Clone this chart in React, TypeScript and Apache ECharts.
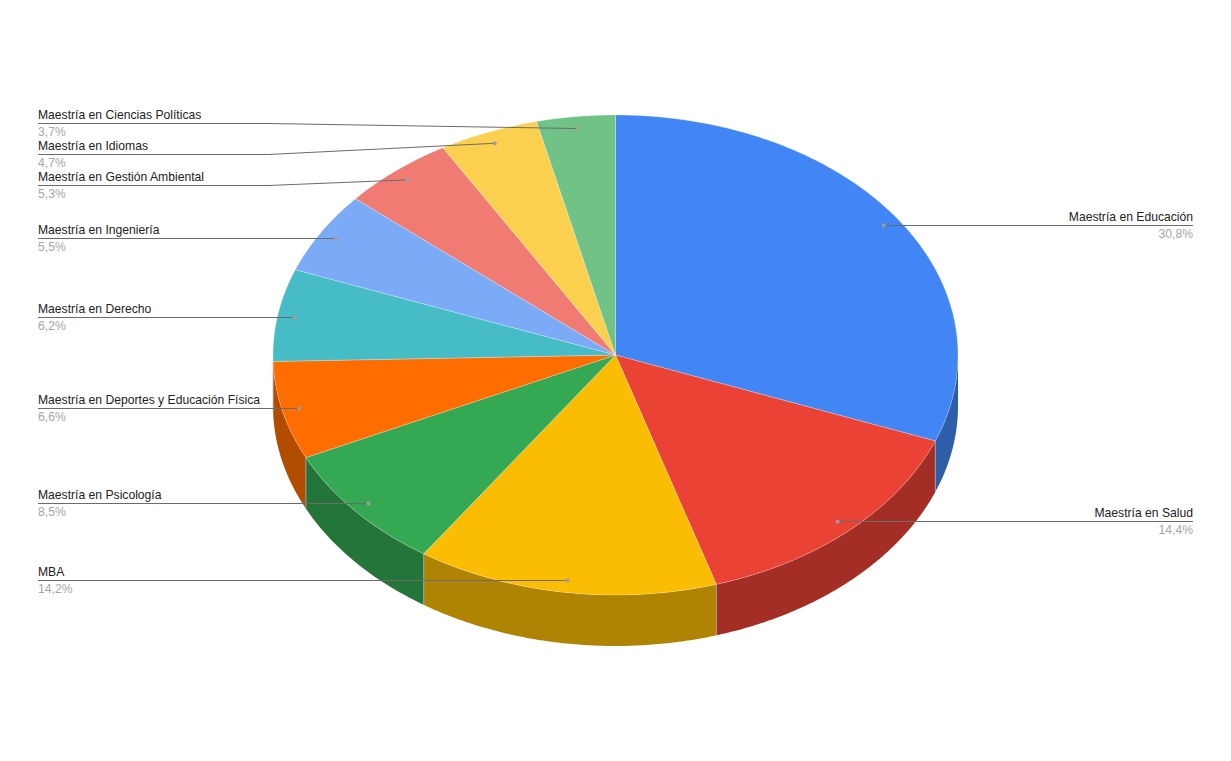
import React, { useEffect, useRef } from "react";
import * as echarts from "echarts";

const categories = [
  "Maestría en Educación",
  "Maestría en Salud",
  "MBA",
  "Maestría en Psicología",
  "Maestría en Deportes y Educación Física",
  "Maestría en Derecho",
  "Maestría en Ingeniería",
  "Maestría en Gestión Ambiental",
  "Maestría en Idiomas",
  "Maestría en Ciencias Políticas",
];
const shares = [30.8, 14.4, 14.2, 8.5, 6.6, 6.2, 5.5, 5.3, 4.7, 3.7];
const topColors = ["#4285f4", "#ea4335", "#fbbc04", "#34a853", "#ff6d01", "#46bdc6", "#7baaf7", "#f07b72", "#fcd04f", "#71c287"];
const sideColors = ["#2e5daa", "#a32e25", "#af8303", "#247539", "#b24c00", "#31848a", "#5677ac", "#a8564f", "#b09137", "#4f885e"];
// label rows stacked at the top-left, away from their slice's anchor height
const stackedLabelY: Record<number, number> = { 7: 185.5, 8: 154.5, 9: 123.5 };
const adjustedLabelY: Record<number, number> = { 4: 408.5, 5: 317.5 };

const CX = 615.5;
const CY = 355;
const RX = 342.5;
const RY = 240;
const DEPTH = 51;
const ANCHOR = 0.95;
const LEFT_X = 38;
const RIGHT_X = 1193;
const KINK_X = 268;
const FONT = "12.15px 'Liberation Sans', Arial, sans-serif";

const total = shares.reduce((a, b) => a + b, 0);
const pt = (deg: number, k = 1, dy = 0): [number, number] => {
  const r = (deg * Math.PI) / 180;
  return [CX + RX * k * Math.sin(r), CY - RY * k * Math.cos(r) + dy];
};
const arc = (a: number, b: number, dy = 0) => {
  const n = Math.max(2, Math.ceil(Math.abs(b - a) * 2));
  const out: [number, number][] = [];
  for (let i = 0; i <= n; i++) out.push(pt(a + ((b - a) * i) / n, 1, dy));
  return out;
};

const renderItem = (params: any, api: any) => {
  const i = params.dataIndex;
  let before = 0;
  for (let j = 0; j < i; j++) before += shares[j];
  const start = (before / total) * 360;
  const end = ((before + api.value(0)) / total) * 360;
  const mid = (start + end) / 2;
  const children: any[] = [];

  // side wall: only the front half of the rim is visible
  const a = Math.max(start, 90);
  const b = Math.min(end, 270);
  if (b > a) {
    children.push({
      type: "polygon",
      z2: 1,
      shape: { points: [...arc(a, b), ...arc(b, a, DEPTH)] },
      style: { fill: sideColors[i] },
    });
  }
  // top face
  children.push({
    type: "polygon",
    z2: 3,
    shape: { points: [[CX, CY], ...arc(start, end)] },
    style: { fill: topColors[i], stroke: "rgba(255,255,255,0.25)", lineWidth: 1 },
  });
  // vertical seam at the end of a visible wall
  if (end > 90 && end < 270) {
    const [x, y] = pt(end);
    children.push({
      type: "line",
      z2: 2,
      shape: { x1: x, y1: y, x2: x, y2: y + DEPTH },
      style: { stroke: "rgba(170,170,170,0.8)", lineWidth: 1 },
    });
  }

  // leader, dot and label
  const [dx, dy] = pt(mid, ANCHOR);
  const onRight = mid < 180;
  const stacked = stackedLabelY[i];
  const ly = stacked !== undefined ? stacked : adjustedLabelY[i] ?? Math.floor(dy) + 0.5;
  const edge = onRight ? RIGHT_X : LEFT_X;
  const pts: [number, number][] =
    stacked !== undefined ? [[edge, ly], [KINK_X, ly], [dx, dy]] : [[edge, ly], [dx, ly]];
  children.push({
    type: "polyline",
    z2: 5,
    shape: { points: pts },
    style: { fill: "none", stroke: "#6b6b6b", lineWidth: 1 },
  });
  children.push({
    type: "circle",
    z2: 6,
    shape: { cx: dx, cy: stacked !== undefined ? dy : ly, r: 2 },
    style: { fill: "#9e9e9e" },
  });
  const align = onRight ? "right" : "left";
  children.push({
    type: "text",
    z2: 7,
    style: {
      x: edge,
      y: ly - 9,
      text: categories[i],
      fill: "#222222",
      font: FONT,
      align,
      verticalAlign: "middle",
    },
  });
  children.push({
    type: "text",
    z2: 7,
    style: {
      x: edge,
      y: ly + 8,
      text: shares[i].toFixed(1).replace(".", ",") + "%",
      fill: "#a6a6a6",
      font: FONT,
      align,
      verticalAlign: "middle",
    },
  });
  return { type: "group", children };
};

export default function App() {
  const ref = useRef<HTMLDivElement>(null);
  useEffect(() => {
    const chart = echarts.init(ref.current!, undefined, { renderer: "svg" });
    chart.setOption({
      animation: false,
      backgroundColor: "#ffffff",
      series: [
        {
          type: "custom",
          coordinateSystem: "none",
          silent: true,
          clip: false,
          renderItem,
          data: shares.map((v) => [v]),
        },
      ],
    });
    return () => chart.dispose();
  }, []);
  return <div ref={ref} style={{ position: "absolute", left: 0, top: 0, width: 1231, height: 761 }} />;
}
